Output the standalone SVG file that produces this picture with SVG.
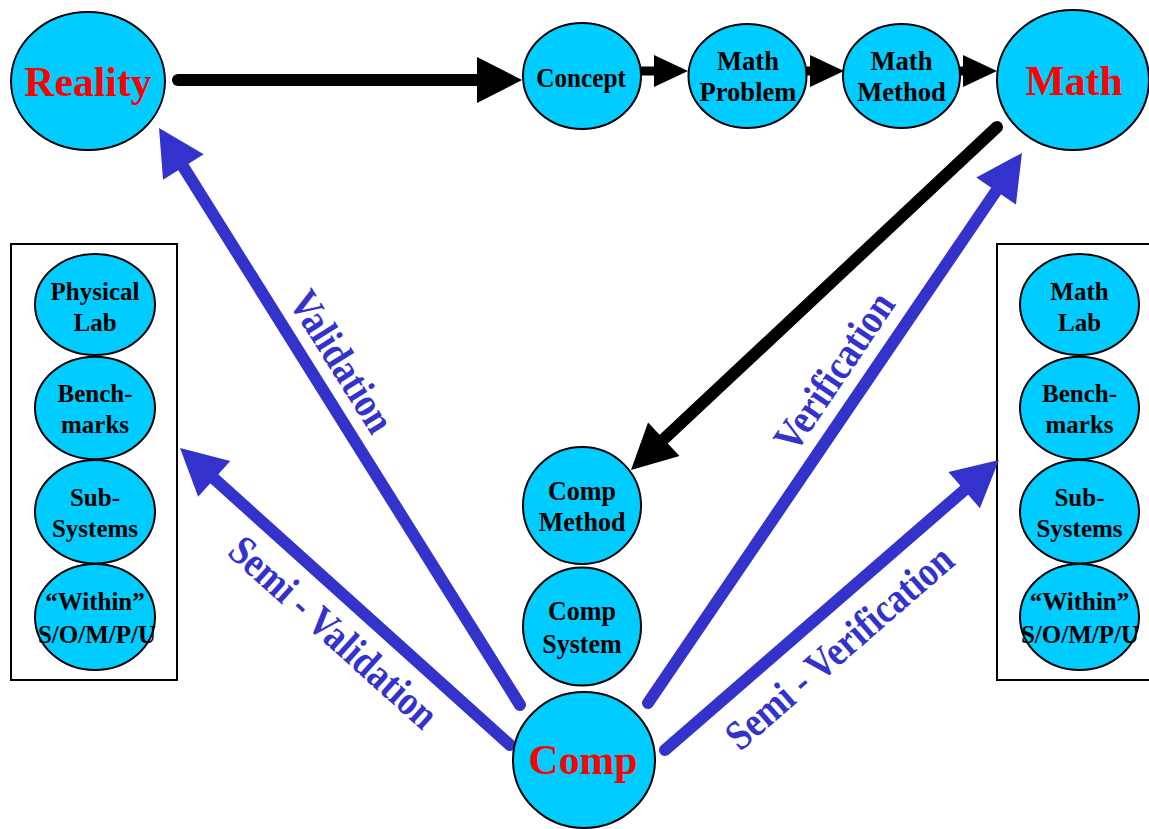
<svg xmlns="http://www.w3.org/2000/svg" width="1149" height="829" viewBox="0 0 1149 829">
<style>
.nd{fill:#00CCFF;stroke:#000;stroke-width:2}
.t{font-family:"Liberation Serif","Times New Roman",serif;font-weight:bold;font-size:25px;fill:#000;text-anchor:middle}
.t2{font-family:"Liberation Serif","Times New Roman",serif;font-weight:bold;font-size:28px;fill:#000;text-anchor:middle}
.big{font-family:"Liberation Serif","Times New Roman",serif;font-weight:bold;font-size:43px;fill:#FF0000;text-anchor:middle}
.lbl{font-family:"Liberation Serif","Times New Roman",serif;font-weight:bold;font-size:42px;fill:#3333CC;text-anchor:middle}
.bl{stroke:#3333CC;stroke-width:12;stroke-linecap:round;fill:none}
.bk{stroke:#000;stroke-width:12;stroke-linecap:round;fill:none}
.bks{stroke:#000;stroke-width:9;stroke-linecap:round;fill:none}
.box{fill:#fff;stroke:#000;stroke-width:2}
</style>
<defs>
<marker id="ab" markerUnits="userSpaceOnUse" markerWidth="46" markerHeight="48" refX="0" refY="24" orient="auto" overflow="visible"><path d="M0,0 L46,24 L0,48 Z" fill="#3333CC"/></marker>
<marker id="ak" markerUnits="userSpaceOnUse" markerWidth="45" markerHeight="46" refX="0" refY="23" orient="auto" overflow="visible"><path d="M0,0 L45,23 L0,46 Z" fill="#000"/></marker>
<marker id="aks" markerUnits="userSpaceOnUse" markerWidth="34" markerHeight="32" refX="0" refY="16" orient="auto" overflow="visible"><path d="M0,0 L34,16 L0,32 Z" fill="#000"/></marker>
</defs>
<rect width="1149" height="829" fill="#fff"/>
<rect class="box" x="11" y="244" width="166" height="436"/>
<rect class="box" x="997" y="244" width="170" height="436"/>
<g id="connectors">
<line class="bk" x1="178" y1="80" x2="477" y2="80" marker-end="url(#ak)"/>
<line class="bks" x1="641" y1="71" x2="654" y2="71" marker-end="url(#aks)"/>
<line class="bks" x1="806" y1="71" x2="810" y2="71" marker-end="url(#aks)"/>
<line class="bks" x1="959" y1="71" x2="963" y2="71" marker-end="url(#aks)"/>
<line class="bk" x1="997" y1="127" x2="663.8" y2="439.2" marker-end="url(#ak)"/>
<line class="bl" x1="520" y1="705" x2="183.4" y2="167" marker-end="url(#ab)"/>
<line class="bl" x1="510" y1="745" x2="214.2" y2="478.8" marker-end="url(#ab)"/>
<line class="bl" x1="648" y1="703" x2="996.1" y2="191" marker-end="url(#ab)"/>
<line class="bl" x1="665" y1="750" x2="964.2" y2="490.2" marker-end="url(#ab)"/>
<text class="lbl" transform="translate(341,362) rotate(58) scale(0.86,1)" y="13">Validation</text>
<text class="lbl" transform="translate(333,633) rotate(42) scale(0.86,1)" y="13">Semi - Validation</text>
<text class="lbl" transform="translate(835,372) rotate(-56) scale(0.86,1)" y="13">Verification</text>
<text class="lbl" transform="translate(840,648) rotate(-41) scale(0.86,1)" y="13">Semi - Verification</text>
</g>
<g id="reality"><ellipse class="nd" cx="88" cy="81" rx="77" ry="69"/><text class="big" transform="translate(88,0) scale(0.97,1)" y="96">Reality</text></g>
<g id="concept"><ellipse class="nd" cx="582" cy="76" rx="59" ry="53"/><text class="t2" transform="translate(581,0) scale(0.9,1)" y="87">Concept</text></g>
<g id="math-problem"><ellipse class="nd" cx="747.5" cy="76" rx="59" ry="52"/><text class="t2" transform="translate(748,0) scale(0.95,1)" y="70">Math</text><text class="t2" transform="translate(748,0) scale(0.95,1)" y="101">Problem</text></g>
<g id="math-method"><ellipse class="nd" cx="901.5" cy="76" rx="58.5" ry="52"/><text class="t2" transform="translate(901.5,0) scale(0.95,1)" y="70">Math</text><text class="t2" transform="translate(901.5,0) scale(0.95,1)" y="101">Method</text></g>
<g id="math"><ellipse class="nd" cx="1073" cy="80" rx="76" ry="70"/><text class="big" transform="translate(1074,0) scale(0.97,1)" y="95">Math</text></g>
<g id="comp-method"><ellipse class="nd" cx="582" cy="505.5" rx="59" ry="58.5"/><text class="t2" transform="translate(582,0) scale(0.93,1)" y="500">Comp</text><text class="t2" transform="translate(582,0) scale(0.93,1)" y="531">Method</text></g>
<g id="comp-system"><ellipse class="nd" cx="582" cy="626.5" rx="59" ry="59"/><text class="t2" transform="translate(582,0) scale(0.93,1)" y="620">Comp</text><text class="t2" transform="translate(582,0) scale(0.93,1)" y="653">System</text></g>
<g id="comp"><ellipse class="nd" cx="584" cy="760" rx="71" ry="68"/><text class="big" transform="translate(583,0) scale(0.97,1)" y="774">Comp</text></g>
<g id="physical-lab"><ellipse class="nd" cx="95" cy="304.5" rx="60" ry="50.5"/><text class="t" x="95" y="300">Physical</text><text class="t" x="95" y="331">Lab</text></g>
<g id="benchmarks-l"><ellipse class="nd" cx="95" cy="408" rx="60" ry="51.3"/><text class="t" x="95" y="402">Bench-</text><text class="t" x="95" y="433">marks</text></g>
<g id="subsystems-l"><ellipse class="nd" cx="95" cy="511.7" rx="60" ry="51.7"/><text class="t" x="95" y="506">Sub-</text><text class="t" x="95" y="537">Systems</text></g>
<g id="within-l"><ellipse class="nd" cx="95" cy="617" rx="60" ry="53"/><text class="t" x="95" y="610">“Within”</text><text class="t" x="97" y="643">S/O/M/P/U</text></g>
<g id="math-lab"><ellipse class="nd" cx="1079.5" cy="304.5" rx="59.5" ry="50.5"/><text class="t" x="1079.5" y="300">Math</text><text class="t" x="1079.5" y="331">Lab</text></g>
<g id="benchmarks-r"><ellipse class="nd" cx="1079.5" cy="408" rx="59.5" ry="51.3"/><text class="t" x="1079.5" y="402">Bench-</text><text class="t" x="1079.5" y="433">marks</text></g>
<g id="subsystems-r"><ellipse class="nd" cx="1079.5" cy="511.7" rx="59.5" ry="51.7"/><text class="t" x="1079.5" y="506">Sub-</text><text class="t" x="1079.5" y="537">Systems</text></g>
<g id="within-r"><ellipse class="nd" cx="1079.5" cy="617" rx="59.5" ry="53"/><text class="t" x="1079.5" y="610">“Within”</text><text class="t" x="1080" y="643">S/O/M/P/U</text></g>
</svg>
